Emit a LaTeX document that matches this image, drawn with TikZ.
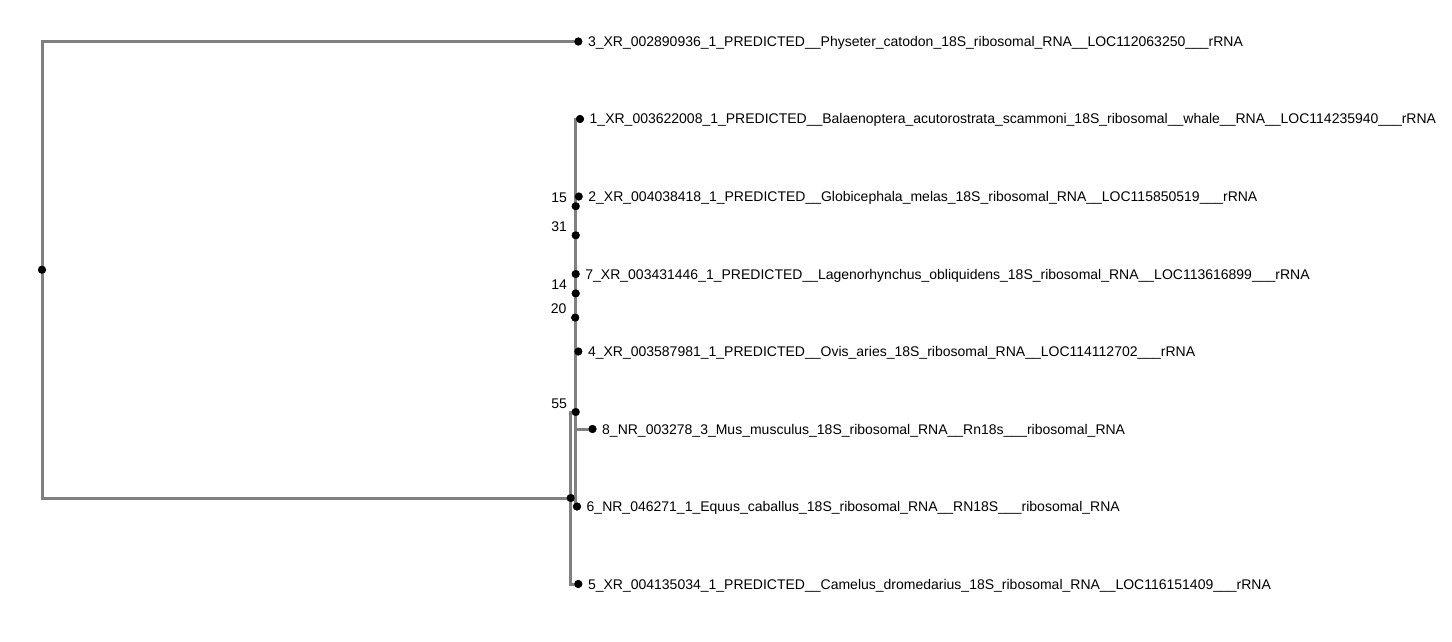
\documentclass[tikz,border=0pt]{standalone}
\usepackage{fontspec}
\setmainfont{Liberation Sans}
\definecolor{treegray}{RGB}{128,128,128}
\newcommand{\lab}{\fontsize{14}{16}\selectfont}
\tikzset{
  dot/.style={circle, fill=black, minimum size=8pt, inner sep=0pt},
  edge/.style={draw=treegray, line width=3pt},
  leaflab/.style={anchor=base west, inner sep=0pt, font=\lab},
  numlab/.style={anchor=base east, inner sep=0pt, font=\lab},
}
\begin{document}
\begin{tikzpicture}[x=1pt, y=-1pt]
\fill[white] (0,0) rectangle (1452,642);
\useasboundingbox (0,0) rectangle (1452,642);
% leaves
\node[dot] (l3) at (578.3,41.5) {};
\node[dot] (l1) at (580,119) {};
\node[dot] (l2) at (578.7,196.5) {};
\node[dot] (l7) at (575.7,274) {};
\node[dot] (l4) at (578.3,351.5) {};
\node[dot] (l8) at (592.5,429) {};
\node[dot] (l6) at (577,506.5) {};
\node[dot] (l5) at (578.3,584) {};
% internal nodes
\node[dot] (n31) at (575.7,235.25) {};
\node[dot] (n14) at (575.7,293.4) {};
\node[dot] (n15) at (575.7,206.2) {};
\node[dot] (n20) at (575.2,317.6) {};
\node[dot] (n55) at (575.7,412) {};
\node[dot] (nA) at (570.7,498) {};
\node[dot] (root) at (42,269.75) {};
% edges
\begin{scope}[on background layer/.style={}]
\path[edge] (root.center) |- (l3.center);
\path[edge] (root.center) |- (nA.center);
\path[edge] (nA.center) |- (n55.center);
\path[edge] (nA.center) |- (l5.center);
\path[edge] (n55.center) |- (n20.center);
\path[edge] (n55.center) |- (l6.center);
\path[edge] (n20.center) |- (n15.center);
\path[edge] (n20.center) |- (l8.center);
\path[edge] (n15.center) |- (l1.center);
\path[edge] (n15.center) |- (n14.center);
\path[edge] (n14.center) |- (n31.center);
\path[edge] (n14.center) |- (l4.center);
\path[edge] (n31.center) |- (l2.center);
\path[edge] (n31.center) |- (l7.center);
\end{scope}
% redraw dots on top
\foreach \n in {l3,l1,l2,l7,l4,l8,l6,l5,n31,n14,n15,n20,n55,nA,root}
  \fill[black] (\n.center) circle (4pt);
% leaf labels
\node[leaflab] (t3) at ([xshift=9.5pt,yshift=-5pt]l3.center) {3\_XR\_002890936\_1\_PREDICTED\_\_Physeter\_catodon\_18S\_ribosomal\_RNA\_\_LOC112063250\_\_\_rRNA};
\node[leaflab] (t1) at ([xshift=9.5pt,yshift=-5pt]l1.center) {1\_XR\_003622008\_1\_PREDICTED\_\_Balaenoptera\_acutorostrata\_scammoni\_18S\_ribosomal\_\_whale\_\_RNA\_\_LOC114235940\_\_\_rRNA};
\node[leaflab] (t2) at ([xshift=9.5pt,yshift=-5pt]l2.center) {2\_XR\_004038418\_1\_PREDICTED\_\_Globicephala\_melas\_18S\_ribosomal\_RNA\_\_LOC115850519\_\_\_rRNA};
\node[leaflab] (t7) at ([xshift=9.5pt,yshift=-5pt]l7.center) {7\_XR\_003431446\_1\_PREDICTED\_\_Lagenorhynchus\_obliquidens\_18S\_ribosomal\_RNA\_\_LOC113616899\_\_\_rRNA};
\node[leaflab] (t4) at ([xshift=9.5pt,yshift=-5pt]l4.center) {4\_XR\_003587981\_1\_PREDICTED\_\_Ovis\_aries\_18S\_ribosomal\_RNA\_\_LOC114112702\_\_\_rRNA};
\node[leaflab] (t8) at ([xshift=9.5pt,yshift=-5pt]l8.center) {8\_NR\_003278\_3\_Mus\_musculus\_18S\_ribosomal\_RNA\_\_Rn18s\_\_\_ribosomal\_RNA};
\node[leaflab] (t6) at ([xshift=9.5pt,yshift=-5pt]l6.center) {6\_NR\_046271\_1\_Equus\_caballus\_18S\_ribosomal\_RNA\_\_RN18S\_\_\_ribosomal\_RNA};
\node[leaflab] (t5) at ([xshift=9.5pt,yshift=-5pt]l5.center) {5\_XR\_004135034\_1\_PREDICTED\_\_Camelus\_dromedarius\_18S\_ribosomal\_RNA\_\_LOC116151409\_\_\_rRNA};
% support labels
\node[numlab] (s15) at ([xshift=-8.5pt,yshift=4pt]n15.center) {15};
\node[numlab] (s31) at ([xshift=-8.5pt,yshift=4pt]n31.center) {31};
\node[numlab] (s14) at ([xshift=-8.5pt,yshift=4pt]n14.center) {14};
\node[numlab] (s20) at ([xshift=-8.5pt,yshift=4pt]n20.center) {20};
\node[numlab] (s55) at ([xshift=-8.5pt,yshift=4pt]n55.center) {55};
\end{tikzpicture}
\end{document}
